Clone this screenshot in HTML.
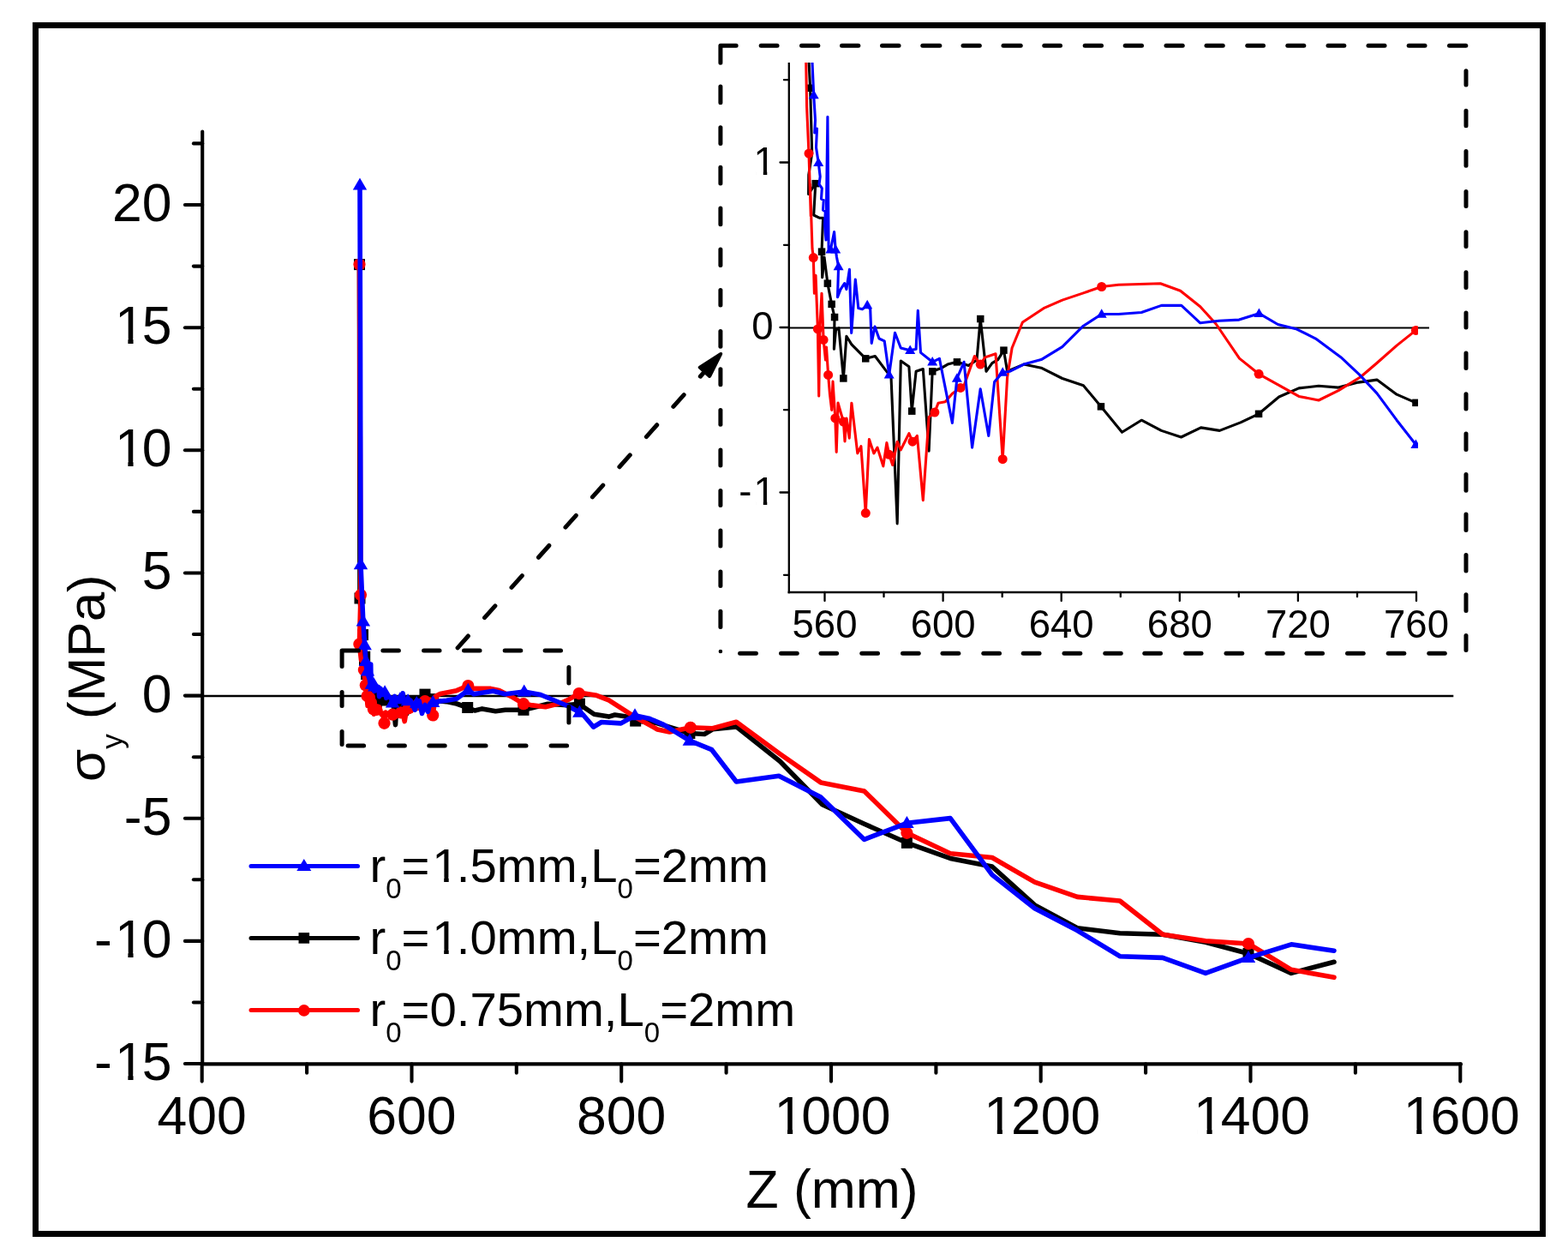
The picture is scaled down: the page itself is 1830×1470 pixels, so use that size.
<!DOCTYPE html>
<html><head><meta charset="utf-8"><title>Stress chart</title>
<style>
html,body{margin:0;padding:0;background:#fff;}
body{width:1830px;height:1470px;position:relative;overflow:hidden;}
.frame{position:absolute;left:38px;top:26px;width:1766px;height:1417px;box-sizing:border-box;border:7px solid #000;}
</style></head><body>
<div class="frame"></div>
<svg width="1830" height="1470" viewBox="0 0 1830 1470" style="position:absolute;left:0;top:0">
<defs><clipPath id="ic"><rect x="921" y="73" width="734" height="617"/></clipPath></defs>
<g stroke="#000" stroke-width="4.1" stroke-linecap="round" fill="none">
<line x1="236.2" y1="153.5" x2="236.2" y2="1241.4"/>
<line x1="236.2" y1="1241.4" x2="1705" y2="1241.4"/>
<line x1="215.89999999999998" y1="1241.0" x2="236.2" y2="1241.0"/>
<line x1="215.89999999999998" y1="1097.9" x2="236.2" y2="1097.9"/>
<line x1="215.89999999999998" y1="954.8" x2="236.2" y2="954.8"/>
<line x1="215.89999999999998" y1="811.6" x2="236.2" y2="811.6"/>
<line x1="215.89999999999998" y1="668.5" x2="236.2" y2="668.5"/>
<line x1="215.89999999999998" y1="525.3" x2="236.2" y2="525.3"/>
<line x1="215.89999999999998" y1="382.2" x2="236.2" y2="382.2"/>
<line x1="215.89999999999998" y1="239.0" x2="236.2" y2="239.0"/>
<line x1="225.89999999999998" y1="1169.5" x2="236.2" y2="1169.5"/>
<line x1="225.89999999999998" y1="1026.3" x2="236.2" y2="1026.3"/>
<line x1="225.89999999999998" y1="883.2" x2="236.2" y2="883.2"/>
<line x1="225.89999999999998" y1="740.0" x2="236.2" y2="740.0"/>
<line x1="225.89999999999998" y1="596.9" x2="236.2" y2="596.9"/>
<line x1="225.89999999999998" y1="453.7" x2="236.2" y2="453.7"/>
<line x1="225.89999999999998" y1="310.6" x2="236.2" y2="310.6"/>
<line x1="225.89999999999998" y1="167.4" x2="236.2" y2="167.4"/>
<line x1="235.7" y1="1241.4" x2="235.7" y2="1261.6000000000001"/>
<line x1="480.5" y1="1241.4" x2="480.5" y2="1261.6000000000001"/>
<line x1="725.2" y1="1241.4" x2="725.2" y2="1261.6000000000001"/>
<line x1="970.0" y1="1241.4" x2="970.0" y2="1261.6000000000001"/>
<line x1="1214.7" y1="1241.4" x2="1214.7" y2="1261.6000000000001"/>
<line x1="1459.5" y1="1241.4" x2="1459.5" y2="1261.6000000000001"/>
<line x1="1704.3" y1="1241.4" x2="1704.3" y2="1261.6000000000001"/>
<line x1="358.1" y1="1241.4" x2="358.1" y2="1251.7"/>
<line x1="602.8" y1="1241.4" x2="602.8" y2="1251.7"/>
<line x1="847.6" y1="1241.4" x2="847.6" y2="1251.7"/>
<line x1="1092.4" y1="1241.4" x2="1092.4" y2="1251.7"/>
<line x1="1337.1" y1="1241.4" x2="1337.1" y2="1251.7"/>
<line x1="1581.9" y1="1241.4" x2="1581.9" y2="1251.7"/>
</g>
<line x1="236.2" y1="812" x2="1696.3" y2="812" stroke="#000" stroke-width="2.3"/>
<g font-family='"Liberation Sans", sans-serif' font-size="62.5" fill="#000">
<text x="110.07" y="1260.05" dx="0 3.12 -3.12" font-size="62.5">-15</text>
<text x="110.07" y="1116.90" dx="0 3.12 -3.12" font-size="62.5">-10</text>
<text x="144.83" y="973.75" font-size="62.5">-5</text>
<text x="165.64" y="830.60" font-size="62.5">0</text>
<text x="165.64" y="687.45" font-size="62.5">5</text>
<text x="130.88" y="544.30" dx="3.12 -3.12" font-size="62.5">10</text>
<text x="130.88" y="401.15" dx="3.12 -3.12" font-size="62.5">15</text>
<text x="130.88" y="258.00" font-size="62.5">20</text>
<text x="183.56" y="1323.30" font-size="62.5">400</text>
<text x="428.32" y="1323.30" font-size="62.5">600</text>
<text x="673.08" y="1323.30" font-size="62.5">800</text>
<text x="900.46" y="1323.30" dx="3.12 -3.12 0 0" font-size="62.5">1000</text>
<text x="1145.22" y="1323.30" dx="3.12 -3.12 0 0" font-size="62.5">1200</text>
<text x="1389.98" y="1323.30" dx="3.12 -3.12 0 0" font-size="62.5">1400</text>
<text x="1634.74" y="1323.30" dx="3.12 -3.12 0 0" font-size="62.5">1600</text>
<text x="870.4" y="1409">Z (mm)</text>
<text transform="translate(121.6,912) rotate(-90)" font-size="62">σ<tspan font-size="35" dy="21.5">y</tspan><tspan dy="-21.5"> (MPa)</tspan></text>
</g>
<polyline points="419.5,308.6 420.0,698.0 423.5,740.6 425.7,766.2 425.5,770.1 426.3,781.4 424.9,785.1 424.8,788.5 427.7,786.6 427.0,792.1 429.4,792.6 430.8,792.6 430.3,798.5 430.5,802.9 431.3,799.4 432.7,804.0 434.4,807.6 435.6,809.8 435.4,815.4 436.1,812.0 437.3,811.7 439.3,820.4 440.5,813.1 442.6,814.6 448.5,817.0 452.4,816.6 456.7,819.0 459.0,820.2 461.5,845.6 463.0,817.4 466.4,818.4 467.6,826.1 469.3,819.2 472.2,818.8 474.6,833.0 476.1,819.2 480.0,818.6 482.4,818.0 486.3,817.6 491.1,818.2 494.5,817.3 496.0,810.1 498.4,819.2 500.8,817.8 503.2,817.2 505.6,815.6 507.1,819.2 513.9,818.0 521.1,818.6 532.9,821.0 545.7,825.5 554.2,829.0 562.7,826.9 578.4,829.7 589.7,828.3 611.0,828.3 622.4,825.5 639.4,821.2 662.2,822.6 676.4,821.2 682.0,825.5 693.4,833.3 710.5,836.1 717.6,834.0 736.0,836.8 741.7,841.1 764.7,843.1 792.5,851.7 804.9,855.5 822.1,856.5 831.7,850.8 859.4,847.9 910.1,888.0 959.8,938.7 1008.7,961.3 1058.4,983.3 1109.1,1001.4 1157.9,1011.0 1207.6,1055.9 1257.3,1082.7 1307.0,1088.7 1357.0,1090.3 1407.0,1099.3 1457.0,1112.5 1507.0,1135.4 1557.0,1122.3" fill="none" stroke="#000" stroke-width="5.6" stroke-linejoin="round" stroke-linecap="round"/>
<rect x="413.0" y="302.1" width="13" height="13" fill="#000"/>
<rect x="413.5" y="691.5" width="13" height="13" fill="#000"/>
<rect x="417.0" y="734.1" width="13" height="13" fill="#000"/>
<rect x="419.2" y="759.7" width="13" height="13" fill="#000"/>
<rect x="419.0" y="763.6" width="13" height="13" fill="#000"/>
<rect x="421.2" y="780.1" width="13" height="13" fill="#000"/>
<rect x="423.8" y="792.0" width="13" height="13" fill="#000"/>
<rect x="426.2" y="797.5" width="13" height="13" fill="#000"/>
<rect x="427.9" y="801.1" width="13" height="13" fill="#000"/>
<rect x="429.1" y="803.3" width="13" height="13" fill="#000"/>
<rect x="432.8" y="813.9" width="13" height="13" fill="#000"/>
<rect x="442.0" y="810.5" width="13" height="13" fill="#000"/>
<rect x="461.1" y="819.6" width="13" height="13" fill="#000"/>
<rect x="469.6" y="812.7" width="13" height="13" fill="#000"/>
<rect x="479.8" y="811.1" width="13" height="13" fill="#000"/>
<rect x="489.5" y="803.6" width="13" height="13" fill="#000"/>
<rect x="499.1" y="809.1" width="13" height="13" fill="#000"/>
<rect x="539.2" y="819.0" width="13" height="13" fill="#000"/>
<rect x="604.5" y="821.8" width="13" height="13" fill="#000"/>
<rect x="669.9" y="814.7" width="13" height="13" fill="#000"/>
<rect x="735.2" y="834.6" width="13" height="13" fill="#000"/>
<rect x="798.4" y="849.0" width="13" height="13" fill="#000"/>
<rect x="1051.9" y="976.8" width="13" height="13" fill="#000"/>
<rect x="1450.5" y="1106.0" width="13" height="13" fill="#000"/>
<polyline points="419.5,308.6 421.0,694.1 419.4,751.5 421.5,770.0 424.1,773.3 424.9,781.4 425.8,792.3 425.5,786.8 426.4,797.9 426.8,799.5 427.2,805.7 427.8,802.6 428.6,811.9 429.1,823.5 429.5,811.3 430.3,805.7 431.0,813.7 431.9,817.3 432.2,815.0 433.0,819.8 433.6,823.2 434.4,825.9 434.9,821.0 435.9,827.4 436.4,833.2 437.0,824.7 438.3,826.5 439.3,828.0 439.8,831.4 440.5,827.4 441.7,830.8 442.6,824.7 445.1,833.4 446.5,832.2 448.5,843.8 449.9,831.0 451.9,833.4 453.3,832.4 455.7,835.7 457.2,831.6 458.2,833.7 459.6,835.5 461.5,831.4 463.0,832.8 466.4,830.0 467.9,831.4 469.8,830.4 472.2,841.6 474.6,827.2 477.0,826.3 478.5,824.7 481.4,824.5 484.3,823.1 487.7,822.1 489.2,821.7 493.5,816.6 496.0,818.0 497.9,816.8 502.3,816.2 505.2,834.5 507.1,820.2 509.0,815.2 508.1,812.4 513.8,809.5 532.9,805.7 546.3,800.0 552.8,803.4 572.7,803.4 582.6,805.6 596.8,812.7 611.0,821.2 619.5,822.6 636.6,824.7 653.6,820.5 663.6,816.2 675.7,809.1 682.0,809.1 696.3,811.3 710.5,816.9 741.7,836.8 767.3,851.0 781.5,853.9 805.9,848.8 831.7,849.8 859.4,842.2 910.1,879.4 957.9,912.9 1008.7,923.0 1058.4,971.8 1109.1,995.7 1157.9,1000.5 1207.6,1029.2 1257.3,1046.4 1307.0,1051.0 1357.0,1090.3 1407.0,1097.7 1457.0,1101.0 1507.0,1131.3 1557.0,1140.3" fill="none" stroke="#f00" stroke-width="5.6" stroke-linejoin="round" stroke-linecap="round"/>
<circle cx="419.5" cy="308.6" r="7.1" fill="#f00"/>
<circle cx="421.0" cy="694.1" r="7.1" fill="#f00"/>
<circle cx="419.4" cy="751.5" r="7.1" fill="#f00"/>
<circle cx="424.9" cy="781.4" r="7.1" fill="#f00"/>
<circle cx="426.8" cy="799.5" r="7.1" fill="#f00"/>
<circle cx="428.6" cy="811.9" r="7.1" fill="#f00"/>
<circle cx="431.0" cy="813.7" r="7.1" fill="#f00"/>
<circle cx="433.0" cy="819.8" r="7.1" fill="#f00"/>
<circle cx="435.9" cy="827.4" r="7.1" fill="#f00"/>
<circle cx="439.3" cy="828.0" r="7.1" fill="#f00"/>
<circle cx="448.5" cy="843.8" r="7.1" fill="#f00"/>
<circle cx="458.2" cy="833.7" r="7.1" fill="#f00"/>
<circle cx="467.9" cy="831.4" r="7.1" fill="#f00"/>
<circle cx="477.0" cy="826.3" r="7.1" fill="#f00"/>
<circle cx="487.7" cy="822.1" r="7.1" fill="#f00"/>
<circle cx="496.0" cy="818.0" r="7.1" fill="#f00"/>
<circle cx="505.2" cy="834.5" r="7.1" fill="#f00"/>
<circle cx="546.3" cy="800.0" r="7.1" fill="#f00"/>
<circle cx="611.0" cy="821.2" r="7.1" fill="#f00"/>
<circle cx="675.7" cy="809.1" r="7.1" fill="#f00"/>
<circle cx="805.9" cy="848.8" r="7.1" fill="#f00"/>
<circle cx="1058.4" cy="971.8" r="7.1" fill="#f00"/>
<circle cx="1457.0" cy="1101.0" r="7.1" fill="#f00"/>
<polyline points="420.0,216.0 420.5,400.0 421.0,658.6 423.8,724.8 425.7,752.6 427.0,771.3 427.6,775.6 427.3,777.8 428.3,777.1 428.0,780.4 428.9,783.0 429.6,785.4 429.2,786.8 430.4,787.5 430.1,789.3 431.1,789.5 430.8,791.2 431.8,791.5 431.5,793.8 432.0,796.4 432.7,775.1 433.1,798.1 433.9,798.1 435.4,795.0 436.0,798.1 436.5,799.4 437.2,801.0 436.8,806.4 438.1,805.0 439.7,804.0 440.5,805.0 441.8,801.5 442.6,812.6 444.2,803.3 445.4,808.3 447.1,808.4 449.1,807.7 450.4,808.4 450.9,814.4 452.3,811.5 454.0,813.5 456.2,813.9 458.2,819.8 460.6,812.5 463.0,815.2 466.9,815.6 469.3,815.4 470.1,808.7 471.2,816.0 476.1,817.6 479.0,817.0 484.3,828.2 486.3,820.4 489.2,817.6 492.5,832.4 496.0,822.3 499.4,830.4 501.8,821.1 505.2,819.4 508.1,819.2 513.9,818.0 521.1,817.2 532.9,815.2 546.3,805.2 552.8,809.8 575.5,806.3 589.7,809.8 611.7,807.0 630.9,810.5 663.6,824.0 676.4,831.1 680.6,834.0 692.7,848.2 701.9,842.5 724.7,843.9 741.0,834.7 757.3,838.2 774.4,845.3 804.9,864.1 830.7,874.7 859.4,912.0 909.1,905.3 957.9,930.1 1008.7,979.4 1058.4,960.3 1109.1,954.6 1157.9,1020.6 1207.6,1059.8 1257.3,1085.6 1307.0,1115.7 1357.0,1117.4 1407.0,1135.4 1457.0,1117.4 1507.0,1101.8 1557.0,1109.2" fill="none" stroke="#00f" stroke-width="5.6" stroke-linejoin="round" stroke-linecap="round"/>
<polygon points="420.0,207.6 411.8,221.6 428.2,221.6" fill="#00f"/>
<polygon points="421.0,650.2 412.8,664.2 429.2,664.2" fill="#00f"/>
<polygon points="423.8,716.4 415.6,730.4 432.1,730.4" fill="#00f"/>
<polygon points="425.7,744.2 417.4,758.2 433.9,758.2" fill="#00f"/>
<polygon points="427.0,762.9 418.7,776.9 435.2,776.9" fill="#00f"/>
<polygon points="428.9,774.6 420.7,788.6 437.2,788.6" fill="#00f"/>
<polygon points="433.9,789.7 425.7,803.7 442.2,803.7" fill="#00f"/>
<polygon points="436.0,789.7 427.8,803.7 444.3,803.7" fill="#00f"/>
<polygon points="437.2,792.6 429.0,806.6 445.5,806.6" fill="#00f"/>
<polygon points="449.1,799.3 440.9,813.3 457.4,813.3" fill="#00f"/>
<polygon points="458.2,811.4 449.9,825.4 466.4,825.4" fill="#00f"/>
<polygon points="466.9,807.2 458.6,821.2 475.1,821.2" fill="#00f"/>
<polygon points="476.1,809.2 467.8,823.2 484.3,823.2" fill="#00f"/>
<polygon points="486.3,812.0 478.0,826.0 494.5,826.0" fill="#00f"/>
<polygon points="505.2,811.0 496.9,825.0 513.4,825.0" fill="#00f"/>
<polygon points="546.3,796.8 538.0,810.8 554.5,810.8" fill="#00f"/>
<polygon points="611.7,798.6 603.5,812.6 620.0,812.6" fill="#00f"/>
<polygon points="676.4,822.7 668.1,836.7 684.6,836.7" fill="#00f"/>
<polygon points="741.0,826.3 732.8,840.3 749.2,840.3" fill="#00f"/>
<polygon points="804.9,855.7 796.6,869.7 813.1,869.7" fill="#00f"/>
<polygon points="1058.4,951.9 1050.2,965.9 1066.7,965.9" fill="#00f"/>
<polygon points="1457.0,1109.0 1448.8,1123.0 1465.2,1123.0" fill="#00f"/>
<g stroke="#000" stroke-width="5" fill="none" stroke-linecap="round" stroke-linejoin="round">
<path d="M399.1,777.55 L399.1,758.9 L418.45,758.9"/>
<line x1="446.9" y1="758.9" x2="465.4" y2="758.9"/><line x1="494.6" y1="758.9" x2="513.0" y2="758.9"/><line x1="541.5" y1="758.9" x2="560.0" y2="758.9"/><line x1="589.2" y1="758.9" x2="607.8" y2="758.9"/><line x1="636.1" y1="758.9" x2="654.5" y2="758.9"/>
<line x1="663.9" y1="778.5" x2="663.9" y2="797.0"/><line x1="663.9" y1="824.5" x2="663.9" y2="843.0"/>
<line x1="406.1" y1="870" x2="424.6" y2="870"/><line x1="453.9" y1="870" x2="472.4" y2="870"/><line x1="500.8" y1="870" x2="519.2" y2="870"/><line x1="548.5" y1="870" x2="567.0" y2="870"/><line x1="595.5" y1="870" x2="614.0" y2="870"/><line x1="643.1" y1="870" x2="661.6" y2="870"/>
<line x1="399.1" y1="807.6" x2="399.1" y2="823.5"/><line x1="399.1" y1="853.6" x2="399.1" y2="868.5"/>
<path d="M840.9,73.25 L840.9,53.2 L859.15,53.2"/>
<line x1="888.2" y1="53.2" x2="907.0" y2="53.2"/><line x1="935.5" y1="53.2" x2="954.8" y2="53.2"/><line x1="982.5" y1="53.2" x2="1001.8" y2="53.2"/><line x1="1029.5" y1="53.2" x2="1049.0" y2="53.2"/><line x1="1076.8" y1="53.2" x2="1096.8" y2="53.2"/><line x1="1124.0" y1="53.2" x2="1143.3" y2="53.2"/><line x1="1171.0" y1="53.2" x2="1191.2" y2="53.2"/><line x1="1218.8" y1="53.2" x2="1237.5" y2="53.2"/><line x1="1266.2" y1="53.2" x2="1285.5" y2="53.2"/><line x1="1313.2" y1="53.2" x2="1332.5" y2="53.2"/><line x1="1361.0" y1="53.2" x2="1380.2" y2="53.2"/><line x1="1408.0" y1="53.2" x2="1427.2" y2="53.2"/><line x1="1455.8" y1="53.2" x2="1474.5" y2="53.2"/><line x1="1502.8" y1="53.2" x2="1521.8" y2="53.2"/><line x1="1550.0" y1="53.2" x2="1568.8" y2="53.2"/><line x1="1597.0" y1="53.2" x2="1616.0" y2="53.2"/><line x1="1644.2" y1="53.2" x2="1663.0" y2="53.2"/><line x1="1691.5" y1="53.2" x2="1710.8" y2="53.2"/>
<line x1="1711" y1="82.7" x2="1711" y2="99.0"/><line x1="1711" y1="129.2" x2="1711" y2="146.8"/><line x1="1711" y1="176.4" x2="1711" y2="193.2"/><line x1="1711" y1="223.4" x2="1711" y2="240.6"/><line x1="1711" y1="270.8" x2="1711" y2="287.6"/><line x1="1711" y1="317.8" x2="1711" y2="335.4"/><line x1="1711" y1="364.9" x2="1711" y2="381.9"/><line x1="1711" y1="412.1" x2="1711" y2="429.4"/><line x1="1711" y1="459.8" x2="1711" y2="477.1"/><line x1="1711" y1="506.1" x2="1711" y2="524.6"/><line x1="1711" y1="553.6" x2="1711" y2="572.2"/><line x1="1711" y1="599.9" x2="1711" y2="618.5"/><line x1="1711" y1="647.5" x2="1711" y2="666.1"/><line x1="1711" y1="693.8" x2="1711" y2="712.4"/><line x1="1711" y1="741.4" x2="1711" y2="758.5"/>
<line x1="863.6" y1="762.2" x2="882.4" y2="762.2"/><line x1="911.5" y1="762.2" x2="930.2" y2="762.2"/><line x1="958.0" y1="762.2" x2="976.6" y2="762.2"/><line x1="1005.8" y1="762.2" x2="1024.5" y2="762.2"/><line x1="1053.5" y1="762.2" x2="1072.2" y2="762.2"/><line x1="1100.0" y1="762.2" x2="1118.8" y2="762.2"/><line x1="1147.8" y1="762.2" x2="1166.5" y2="762.2"/><line x1="1194.2" y1="762.2" x2="1213.0" y2="762.2"/><line x1="1242.0" y1="762.2" x2="1260.8" y2="762.2"/><line x1="1289.8" y1="762.2" x2="1308.2" y2="762.2"/><line x1="1335.8" y1="762.2" x2="1354.5" y2="762.2"/><line x1="1383.5" y1="762.2" x2="1402.0" y2="762.2"/><line x1="1431.0" y1="762.2" x2="1449.7" y2="762.2"/><line x1="1478.7" y1="762.2" x2="1497.2" y2="762.2"/><line x1="1525.0" y1="762.2" x2="1543.5" y2="762.2"/><line x1="1572.5" y1="762.2" x2="1591.2" y2="762.2"/><line x1="1620.2" y1="762.2" x2="1638.8" y2="762.2"/><line x1="1667.8" y1="762.2" x2="1686.3" y2="762.2"/>
<line x1="840.9" y1="101.0" x2="840.9" y2="119.8"/><line x1="840.9" y1="148.8" x2="840.9" y2="167.6"/><line x1="840.9" y1="195.2" x2="840.9" y2="213.9"/><line x1="840.9" y1="243.1" x2="840.9" y2="261.8"/><line x1="840.9" y1="290.9" x2="840.9" y2="309.6"/><line x1="840.9" y1="338.6" x2="840.9" y2="356.1"/><line x1="840.9" y1="386.6" x2="840.9" y2="404.2"/><line x1="840.9" y1="430.8" x2="840.9" y2="448.8"/><line x1="840.9" y1="478.4" x2="840.9" y2="495.2"/><line x1="840.9" y1="525.0" x2="840.9" y2="543.0"/><line x1="840.9" y1="572.6" x2="840.9" y2="589.4"/><line x1="840.9" y1="619.0" x2="840.9" y2="637.1"/><line x1="840.9" y1="666.9" x2="840.9" y2="683.5"/><line x1="840.9" y1="713.2" x2="840.9" y2="731.4"/>
<circle cx="840.9" cy="760" r="2.3" fill="#000" stroke="none"/>
<line x1="534.1" y1="755.8" x2="822" y2="434" stroke-dasharray="18.5 28.7"/>
</g>
<polygon points="841.2,412.9 816.7,428.6 828.1,439" fill="#000" stroke="#000" stroke-width="4" stroke-linejoin="round"/>
<g stroke="#000" stroke-width="2.3" fill="none">
<line x1="920.8" y1="73" x2="920.8" y2="692.2"/>
<line x1="919.6" y1="691" x2="1654" y2="691" stroke-width="2.5"/>
<line x1="910.5" stroke-linecap="round" y1="189.5" x2="921" y2="189.5"/>
<line x1="910.5" stroke-linecap="round" y1="382.0" x2="921" y2="382.0"/>
<line x1="910.5" stroke-linecap="round" y1="574.5" x2="921" y2="574.5"/>
<line x1="915" stroke-linecap="round" y1="93.2" x2="921" y2="93.2"/>
<line x1="915" stroke-linecap="round" y1="285.8" x2="921" y2="285.8"/>
<line x1="915" stroke-linecap="round" y1="478.2" x2="921" y2="478.2"/>
<line x1="915" stroke-linecap="round" y1="670.8" x2="921" y2="670.8"/>
<line x1="962.5" y1="691" x2="962.5" y2="701" stroke-linecap="round"/>
<line x1="1100.6" y1="691" x2="1100.6" y2="701" stroke-linecap="round"/>
<line x1="1238.7" y1="691" x2="1238.7" y2="701" stroke-linecap="round"/>
<line x1="1376.8" y1="691" x2="1376.8" y2="701" stroke-linecap="round"/>
<line x1="1514.9" y1="691" x2="1514.9" y2="701" stroke-linecap="round"/>
<line x1="1653.0" y1="691" x2="1653.0" y2="701" stroke-linecap="round"/>
<line x1="1031.5" y1="691" x2="1031.5" y2="696.2" stroke-linecap="round"/>
<line x1="1169.7" y1="691" x2="1169.7" y2="696.2" stroke-linecap="round"/>
<line x1="1307.8" y1="691" x2="1307.8" y2="696.2" stroke-linecap="round"/>
<line x1="1445.8" y1="691" x2="1445.8" y2="696.2" stroke-linecap="round"/>
<line x1="1584.0" y1="691" x2="1584.0" y2="696.2" stroke-linecap="round"/>
</g>
<line x1="921" y1="382.5" x2="1668" y2="382.5" stroke="#000" stroke-width="1.8"/>
<g font-family='"Liberation Sans", sans-serif' font-size="45.5" fill="#000">
<text x="877.30" y="203.50" dx="2.27" font-size="45.5">1</text>
<text x="877.30" y="396.00" font-size="45.5">0</text>
<text x="862.14" y="588.50" dx="0 2.27" font-size="45.5">-1</text>
<text x="962.5" y="744" text-anchor="middle">560</text>
<text x="1100.6" y="744" text-anchor="middle">600</text>
<text x="1238.7" y="744" text-anchor="middle">640</text>
<text x="1376.8" y="744" text-anchor="middle">680</text>
<text x="1514.9" y="744" text-anchor="middle">720</text>
<text x="1653.0" y="744" text-anchor="middle">760</text>
</g>
<g clip-path="url(#ic)">
<polyline points="943.4,60.0 945.6,102.7 947.7,178.8 943.8,204.0 943.6,226.5 951.8,214.2 949.7,251.0 956.7,254.3 960.6,254.3 959.0,293.6 959.7,323.7 962.0,300.0 965.9,330.6 970.6,354.9 974.0,370.0 973.4,407.3 975.5,385.0 978.9,382.7 984.4,441.5 987.9,392.3 993.9,401.9 1010.3,418.3 1021.3,415.5 1033.6,431.9 1040.0,440.0 1047.2,610.9 1051.3,421.0 1060.9,427.8 1064.2,479.7 1069.1,433.3 1077.3,430.5 1084.1,526.2 1088.2,433.3 1099.1,429.2 1106.0,425.1 1116.9,422.3 1130.5,426.4 1140.0,420.0 1144.2,372.0 1151.0,433.3 1157.9,423.7 1164.7,419.6 1171.5,408.7 1175.6,433.3 1194.8,425.1 1215.2,429.2 1239.8,441.5 1264.4,449.7 1284.9,474.3 1309.5,504.3 1332.2,490.2 1355.4,502.4 1378.5,510.0 1401.6,498.9 1423.4,502.4 1447.9,492.9 1469.1,482.8 1492.7,463.0 1515.9,452.9 1539.0,450.2 1562.1,452.1 1585.2,446.1 1607.0,443.1 1630.1,460.2 1652.4,469.8" fill="none" stroke="#000" stroke-width="3.1" stroke-linejoin="round"/>
<rect x="941.4" y="98.5" width="8.5" height="8.5" fill="#000"/>
<rect x="947.5" y="209.9" width="8.5" height="8.5" fill="#000"/>
<rect x="954.8" y="289.4" width="8.5" height="8.5" fill="#000"/>
<rect x="961.6" y="326.4" width="8.5" height="8.5" fill="#000"/>
<rect x="966.4" y="350.6" width="8.5" height="8.5" fill="#000"/>
<rect x="969.8" y="365.8" width="8.5" height="8.5" fill="#000"/>
<rect x="980.1" y="437.2" width="8.5" height="8.5" fill="#000"/>
<rect x="1006.0" y="414.1" width="8.5" height="8.5" fill="#000"/>
<rect x="1060.0" y="475.4" width="8.5" height="8.5" fill="#000"/>
<rect x="1084.0" y="429.1" width="8.5" height="8.5" fill="#000"/>
<rect x="1112.7" y="418.1" width="8.5" height="8.5" fill="#000"/>
<rect x="1140.0" y="367.8" width="8.5" height="8.5" fill="#000"/>
<rect x="1167.2" y="404.4" width="8.5" height="8.5" fill="#000"/>
<rect x="1280.7" y="470.1" width="8.5" height="8.5" fill="#000"/>
<rect x="1464.8" y="478.6" width="8.5" height="8.5" fill="#000"/>
<rect x="1648.2" y="465.6" width="8.5" height="8.5" fill="#000"/>
<polyline points="940.5,60.0 941.6,124.8 944.0,179.1 946.3,252.0 945.5,215.0 948.0,290.0 949.3,300.6 950.4,342.2 952.0,321.4 954.4,383.9 955.7,462.0 957.0,380.0 959.0,342.2 961.1,396.4 963.5,420.0 964.5,405.0 966.6,437.4 968.5,460.0 970.7,478.4 972.0,445.0 974.8,487.9 976.2,527.5 978.0,470.0 981.6,482.5 984.4,492.0 986.0,515.0 988.0,488.0 991.2,511.1 993.9,470.2 1000.8,528.9 1004.9,520.7 1010.3,598.6 1014.4,512.5 1019.9,528.9 1024.0,522.1 1030.8,543.9 1034.9,516.6 1037.7,530.3 1041.7,542.6 1047.2,515.2 1051.3,524.8 1060.9,505.7 1065.0,515.2 1070.4,508.4 1077.3,583.6 1084.1,486.6 1090.9,481.1 1095.0,470.2 1103.2,468.8 1111.4,459.2 1121.0,452.4 1125.1,449.7 1137.4,415.5 1144.2,425.1 1149.7,416.9 1162.0,412.8 1170.2,535.7 1175.6,440.1 1181.1,406.0 1193.4,376.0 1218.0,359.7 1239.8,350.1 1264.4,341.9 1285.7,334.5 1305.4,332.3 1354.3,330.7 1377.6,339.3 1400.8,357.7 1419.2,378.0 1446.5,418.1 1469.1,436.3 1515.9,462.4 1539.0,467.0 1562.1,455.6 1588.0,439.8 1607.0,423.5 1630.1,403.1 1652.4,385.4" fill="none" stroke="#f00" stroke-width="3.1" stroke-linejoin="round"/>
<circle cx="944.0" cy="179.1" r="5.5" fill="#f00"/>
<circle cx="949.3" cy="300.6" r="5.5" fill="#f00"/>
<circle cx="954.4" cy="383.9" r="5.5" fill="#f00"/>
<circle cx="961.1" cy="396.4" r="5.5" fill="#f00"/>
<circle cx="966.6" cy="437.4" r="5.5" fill="#f00"/>
<circle cx="974.8" cy="487.9" r="5.5" fill="#f00"/>
<circle cx="984.4" cy="492.0" r="5.5" fill="#f00"/>
<circle cx="1010.3" cy="598.6" r="5.5" fill="#f00"/>
<circle cx="1037.7" cy="530.3" r="5.5" fill="#f00"/>
<circle cx="1065.0" cy="515.2" r="5.5" fill="#f00"/>
<circle cx="1090.9" cy="481.1" r="5.5" fill="#f00"/>
<circle cx="1121.0" cy="452.4" r="5.5" fill="#f00"/>
<circle cx="1144.2" cy="425.1" r="5.5" fill="#f00"/>
<circle cx="1170.2" cy="535.7" r="5.5" fill="#f00"/>
<circle cx="1285.7" cy="334.5" r="5.5" fill="#f00"/>
<circle cx="1469.1" cy="436.3" r="5.5" fill="#f00"/>
<circle cx="1652.4" cy="385.4" r="5.5" fill="#f00"/>
<polyline points="947.4,60.0 949.7,111.0 951.5,140.0 950.8,155.0 953.5,150.0 952.5,172.0 955.2,189.7 957.2,206.0 956.0,215.0 959.3,219.7 958.5,232.0 961.3,233.3 960.5,245.0 963.3,247.0 962.5,262.0 964.0,280.0 965.9,136.3 967.1,291.3 969.4,291.3 973.6,270.5 975.2,291.3 976.5,300.0 978.6,311.0 977.5,346.8 981.0,337.6 985.6,330.6 987.9,337.6 991.4,314.4 993.7,388.5 998.3,326.0 1001.8,359.6 1006.4,360.7 1012.2,356.1 1015.7,360.7 1017.2,400.5 1021.0,381.0 1026.0,395.0 1032.2,397.8 1037.7,437.4 1044.5,388.2 1051.3,406.0 1062.2,408.7 1069.1,407.3 1071.3,362.4 1074.5,411.4 1088.2,422.3 1096.4,418.3 1111.4,493.4 1116.9,441.5 1125.1,422.3 1134.6,522.1 1144.2,453.8 1153.8,508.4 1160.6,445.6 1170.2,434.6 1178.4,433.3 1194.8,425.1 1215.2,419.6 1239.8,404.6 1264.4,380.2 1285.7,366.5 1305.4,366.5 1332.2,364.5 1355.5,356.4 1378.8,356.4 1400.8,376.8 1422.9,374.3 1446.1,373.1 1469.4,365.7 1491.4,378.5 1513.5,384.1 1535.5,395.1 1564.8,416.7 1586.6,437.1 1607.0,458.9 1630.1,490.2 1652.4,518.7" fill="none" stroke="#00f" stroke-width="3.1" stroke-linejoin="round"/>
<polygon points="949.7,104.7 943.7,115.2 955.7,115.2" fill="#00f"/>
<polygon points="955.2,183.4 949.2,193.9 961.2,193.9" fill="#00f"/>
<polygon points="969.4,285.0 963.4,295.5 975.4,295.5" fill="#00f"/>
<polygon points="975.2,285.0 969.2,295.5 981.2,295.5" fill="#00f"/>
<polygon points="978.6,304.7 972.6,315.2 984.6,315.2" fill="#00f"/>
<polygon points="1012.2,349.8 1006.2,360.3 1018.2,360.3" fill="#00f"/>
<polygon points="1037.7,431.1 1031.7,441.6 1043.7,441.6" fill="#00f"/>
<polygon points="1062.2,402.4 1056.2,412.9 1068.2,412.9" fill="#00f"/>
<polygon points="1088.2,416.0 1082.2,426.5 1094.2,426.5" fill="#00f"/>
<polygon points="1116.9,435.2 1110.9,445.7 1122.9,445.7" fill="#00f"/>
<polygon points="1170.2,428.3 1164.2,438.8 1176.2,438.8" fill="#00f"/>
<polygon points="1285.7,360.2 1279.7,370.7 1291.7,370.7" fill="#00f"/>
<polygon points="1469.4,359.4 1463.4,369.9 1475.4,369.9" fill="#00f"/>
<polygon points="1652.4,512.4 1646.4,522.9 1658.4,522.9" fill="#00f"/>
</g>
<g font-family='"Liberation Sans", sans-serif' font-size="56.3" fill="#000">
<line x1="293" y1="1010.4" x2="417.5" y2="1010.4" stroke="#00f" stroke-width="5" stroke-linecap="round"/>
<polygon points="354.8,1002.0 346.3,1016.0 363.3,1016.0" fill="#00f"/>
<text x="431.5" y="1029.0">r<tspan font-size="33" dy="18.8">0</tspan><tspan dy="-18.8" dx="0 2.81 -2.81">=1.5mm,L</tspan><tspan font-size="33" dy="18.8">0</tspan><tspan dy="-18.8">=2mm</tspan></text>
<line x1="293" y1="1094.4" x2="417.5" y2="1094.4" stroke="#000" stroke-width="5" stroke-linecap="round"/>
<rect x="348.5" y="1088.1" width="12.6" height="12.6" fill="#000"/>
<text x="431.5" y="1113.0">r<tspan font-size="33" dy="18.8">0</tspan><tspan dy="-18.8" dx="0 2.81 -2.81">=1.0mm,L</tspan><tspan font-size="33" dy="18.8">0</tspan><tspan dy="-18.8">=2mm</tspan></text>
<line x1="293" y1="1178.4" x2="417.5" y2="1178.4" stroke="#f00" stroke-width="5" stroke-linecap="round"/>
<circle cx="354.8" cy="1178.9" r="6.8" fill="#f00"/>
<text x="431.5" y="1197.0">r<tspan font-size="33" dy="18.8">0</tspan><tspan dy="-18.8">=0.75mm,L</tspan><tspan font-size="33" dy="18.8">0</tspan><tspan dy="-18.8">=2mm</tspan></text>
</g>
<g><rect x="137.97" y="1253.79" width="11.44" height="7.32" fill="#fff"/><rect x="155.55" y="1253.79" width="11.11" height="7.32" fill="#fff"/><rect x="137.97" y="1110.64" width="11.44" height="7.32" fill="#fff"/><rect x="155.55" y="1110.64" width="11.11" height="7.32" fill="#fff"/><rect x="137.97" y="538.04" width="11.44" height="7.32" fill="#fff"/><rect x="155.55" y="538.04" width="11.11" height="7.32" fill="#fff"/><rect x="137.97" y="394.89" width="11.44" height="7.32" fill="#fff"/><rect x="155.55" y="394.89" width="11.11" height="7.32" fill="#fff"/><rect x="907.55" y="1317.04" width="11.44" height="7.32" fill="#fff"/><rect x="925.13" y="1317.04" width="11.11" height="7.32" fill="#fff"/><rect x="1152.31" y="1317.04" width="11.44" height="7.32" fill="#fff"/><rect x="1169.89" y="1317.04" width="11.11" height="7.32" fill="#fff"/><rect x="1397.07" y="1317.04" width="11.44" height="7.32" fill="#fff"/><rect x="1414.65" y="1317.04" width="11.11" height="7.32" fill="#fff"/><rect x="1641.83" y="1317.04" width="11.44" height="7.32" fill="#fff"/><rect x="1659.41" y="1317.04" width="11.11" height="7.32" fill="#fff"/><rect x="882.46" y="198.95" width="8.33" height="5.33" fill="#fff"/><rect x="895.26" y="198.95" width="8.09" height="5.33" fill="#fff"/><rect x="882.46" y="583.95" width="8.33" height="5.33" fill="#fff"/><rect x="895.26" y="583.95" width="8.09" height="5.33" fill="#fff"/><rect x="507.87" y="1023.36" width="10.31" height="6.60" fill="#fff"/><rect x="523.70" y="1023.36" width="10.01" height="6.60" fill="#fff"/><rect x="507.87" y="1107.36" width="10.31" height="6.60" fill="#fff"/><rect x="523.70" y="1107.36" width="10.01" height="6.60" fill="#fff"/></g>
</svg>
</body></html>
